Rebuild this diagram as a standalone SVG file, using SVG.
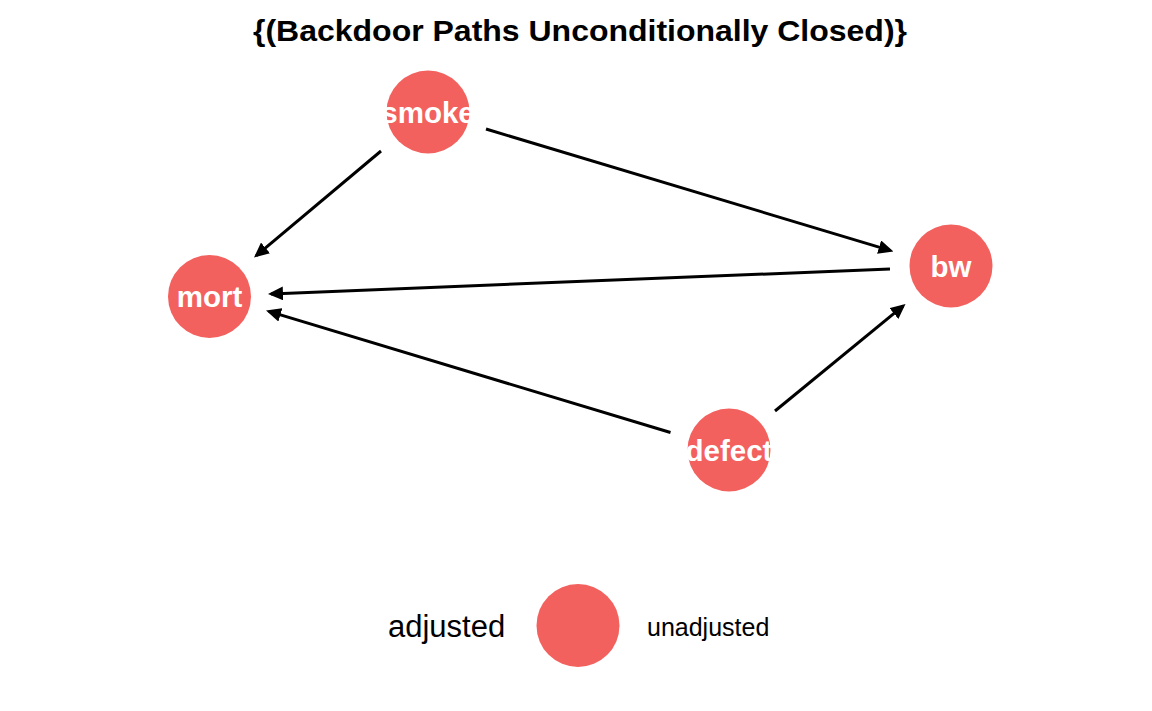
<svg xmlns="http://www.w3.org/2000/svg" width="1152" height="711" viewBox="0 0 1152 711">
  <style>
    .node { fill: #F3615E; }
    .lbl { fill: #ffffff; font-family: "Liberation Sans", Arial, sans-serif; font-weight: bold; font-size: 29.5px; text-anchor: middle; }
    .edge { stroke: #000000; stroke-width: 3; fill: none; marker-end: url(#arrow); }
    .title { font-family: "Liberation Sans", Arial, sans-serif; font-weight: bold; font-size: 30px; fill: #000; }
    .legend { font-family: "Liberation Sans", Arial, sans-serif; fill: #000; }
  </style>
  <defs>
    <marker id="arrow" markerUnits="userSpaceOnUse" markerWidth="15" markerHeight="14" refX="12" refY="7" orient="auto" viewBox="0 0 15 14">
      <path d="M0,0 L15,7 L0,14 Z" fill="#000"/>
    </marker>
  </defs>
  <rect width="1152" height="711" fill="#ffffff"/>
  <text class="title" x="253" y="41" textLength="654" lengthAdjust="spacingAndGlyphs">{(Backdoor Paths Unconditionally Closed)}</text>

  <g id="connectors">
    <line class="edge" x1="381" y1="151" x2="256.3" y2="255.6"/>
    <line class="edge" x1="486" y1="129" x2="890.6" y2="250.6"/>
    <line class="edge" x1="890" y1="269" x2="271" y2="293.9"/>
    <line class="edge" x1="670.5" y1="432.5" x2="268.9" y2="311.4"/>
    <line class="edge" x1="775" y1="411" x2="903.2" y2="305.9"/>
  </g>

  <g id="node-smoke">
    <circle class="node" cx="428" cy="112" r="41.5"/>
    <text class="lbl" x="428" y="122.5">smoke</text>
  </g>
  <g id="node-mort">
    <circle class="node" cx="209.5" cy="296.5" r="41.5"/>
    <text class="lbl" x="209.5" y="307">mort</text>
  </g>
  <g id="node-bw">
    <circle class="node" cx="951" cy="266" r="41.5"/>
    <text class="lbl" x="951" y="276.5">bw</text>
  </g>
  <g id="node-defect">
    <circle class="node" cx="729" cy="450" r="41.5"/>
    <text class="lbl" x="729" y="460.5">defect</text>
  </g>

  <g id="legend">
    <text class="legend" x="388" y="637" font-size="31">adjusted</text>
    <circle class="node" cx="578" cy="625.5" r="41.5"/>
    <text class="legend" x="647" y="636" font-size="25">unadjusted</text>
  </g>
</svg>
